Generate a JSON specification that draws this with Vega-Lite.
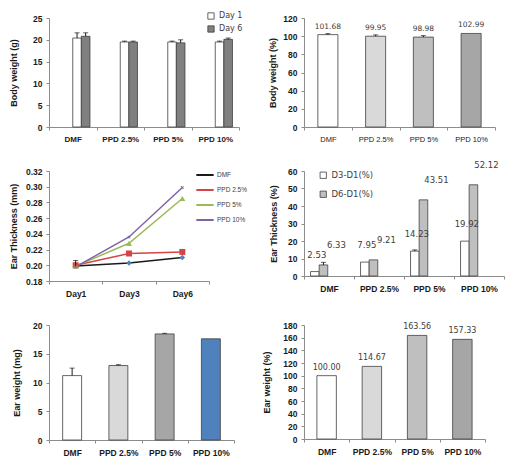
{
  "$schema": "https://vega.github.io/schema/vega-lite/v6.json",
  "padding": {"left": 9, "top": 12, "right": 0, "bottom": 0},
  "config": {
    "font": "Liberation Sans",
    "view": {"stroke": null},
    "axis": {"domainColor": "#8c8c8c", "tickColor": "#8c8c8c", "tickSize": 3, "grid": false, "labelFont": "Liberation Sans", "labelFontWeight": "bold", "labelColor": "#1a1a1a", "labelFontSize": 8.5, "titleFont": "Liberation Sans", "titleFontWeight": "bold", "titleFontSize": 9, "titleColor": "#1a1a1a"},
    "axisX": {"labelAngle": 0, "tickBand": "extent", "labelPadding": 5},
    "axisY": {"labelPadding": 4},
    "legend": {"labelFont": "DejaVu Sans", "labelFontSize": 8, "labelColor": "#404040"}
  },
  "resolve": {
    "scale": {"fill": "independent", "stroke": "independent", "shape": "independent"},
    "legend": {"fill": "independent", "stroke": "independent", "shape": "independent"}
  },
  "columns": 2,
  "align": "each",
  "bounds": "flush",
  "spacing": {"row": 44, "column": 65},
  "concat": [
    {
      "width": 190, "height": 109,
      "data": {"values": [
        {"group": "DMF", "day": "Day 1", "value": 20.4, "upper": 21.6},
        {"group": "DMF", "day": "Day 6", "value": 20.8, "upper": 21.6},
        {"group": "PPD 2.5%", "day": "Day 1", "value": 19.5, "upper": 19.7},
        {"group": "PPD 2.5%", "day": "Day 6", "value": 19.5, "upper": 19.7},
        {"group": "PPD 5%", "day": "Day 1", "value": 19.5, "upper": 19.7},
        {"group": "PPD 5%", "day": "Day 6", "value": 19.3, "upper": 20.0},
        {"group": "PPD 10%", "day": "Day 1", "value": 19.5, "upper": 19.7},
        {"group": "PPD 10%", "day": "Day 6", "value": 20.1, "upper": 20.4}
      ]},
      "encoding": {
        "x": {"field": "group", "type": "nominal", "sort": null, "scale": {"paddingInner": 0, "paddingOuter": 0}, "axis": {"title": null, "labelFontSize": 8}},
        "xOffset": {"field": "day", "type": "nominal", "scale": {"paddingInner": 0, "paddingOuter": 0.76}},
        "y": {"field": "value", "type": "quantitative", "scale": {"domain": [0, 25]}, "axis": {"values": [0, 5, 10, 15, 20, 25], "title": "Body weight (g)", "titleX": -30.5}}
      },
      "layer": [
        {
          "mark": {"type": "bar", "stroke": "#404040", "strokeWidth": 0.8},
          "encoding": {
            "fill": {"field": "day", "type": "nominal", "scale": {"domain": ["Day 1", "Day 6"], "range": ["#ffffff", "#808080"]}, "legend": {"title": null, "orient": "none", "legendX": 158, "legendY": -6, "symbolType": "square", "symbolSize": 40, "symbolStrokeColor": "#404040", "symbolStrokeWidth": 0.8, "rowPadding": 3}}
          }
        },
        {
          "transform": [{"filter": "datum.upper != null"}],
          "mark": {"type": "rule", "color": "#1a1a1a", "strokeWidth": 1},
          "encoding": {"y2": {"field": "upper"}}
        },
        {
          "transform": [{"filter": "datum.upper != null"}],
          "mark": {"type": "tick", "color": "#1a1a1a", "size": 5, "thickness": 1},
          "encoding": {"y": {"field": "upper", "type": "quantitative"}}
        }
      ]
    },
    {
      "width": 191, "height": 109,
      "data": {"values": [
        {"group": "DMF", "value": 101.68, "upper": 102.8},
        {"group": "PPD 2.5%", "value": 99.95, "upper": 101.4},
        {"group": "PPD 5%", "value": 98.98, "upper": 100.6},
        {"group": "PPD 10%", "value": 102.99}
      ]},
      "encoding": {
        "x": {"field": "group", "type": "nominal", "sort": null, "scale": {"paddingInner": 0, "paddingOuter": 0}, "axis": {"title": null, "labelFontSize": 7.5, "labelFontWeight": "normal"}},
        "y": {"field": "value", "type": "quantitative", "scale": {"domain": [0, 120]}, "axis": {"values": [0, 20, 40, 60, 80, 100, 120], "title": "Body weight (%)", "titleX": -26.5}}
      },
      "layer": [
        {
          "mark": {"type": "bar", "stroke": "#404040", "strokeWidth": 0.8, "width": {"band": 0.42}},
          "encoding": {"fill": {"field": "group", "type": "nominal", "sort": null, "scale": {"domain": ["DMF", "PPD 2.5%", "PPD 5%", "PPD 10%"], "range": ["#ffffff", "#d9d9d9", "#bfbfbf", "#a6a6a6"]}, "legend": null}}
        },
        {
          "transform": [{"filter": "datum.upper != null"}],
          "mark": {"type": "rule", "color": "#1a1a1a", "strokeWidth": 1},
          "encoding": {"y2": {"field": "upper"}}
        },
        {
          "transform": [{"filter": "datum.upper != null"}],
          "mark": {"type": "tick", "color": "#1a1a1a", "size": 5, "thickness": 1},
          "encoding": {"y": {"field": "upper", "type": "quantitative"}}
        },
        {
          "mark": {"type": "text", "baseline": "bottom", "dy": -4, "font": "DejaVu Sans", "fontSize": 7.5, "color": "#404040"},
          "encoding": {"text": {"field": "value", "type": "quantitative", "format": ".2f"}}
        }
      ]
    },
    {
      "width": 160, "height": 110,
      "data": {"values": [
        {"group": "DMF", "day": "Day1", "value": 0.199, "upper": 0.206},
        {"group": "DMF", "day": "Day3", "value": 0.203},
        {"group": "DMF", "day": "Day6", "value": 0.210},
        {"group": "PPD 2.5%", "day": "Day1", "value": 0.200},
        {"group": "PPD 2.5%", "day": "Day3", "value": 0.215},
        {"group": "PPD 2.5%", "day": "Day6", "value": 0.217},
        {"group": "PPD 5%", "day": "Day1", "value": 0.199},
        {"group": "PPD 5%", "day": "Day3", "value": 0.228},
        {"group": "PPD 5%", "day": "Day6", "value": 0.285},
        {"group": "PPD 10%", "day": "Day1", "value": 0.198},
        {"group": "PPD 10%", "day": "Day3", "value": 0.236},
        {"group": "PPD 10%", "day": "Day6", "value": 0.299}
      ]},
      "encoding": {
        "x": {"field": "day", "type": "nominal", "sort": null, "scale": {"type": "band", "paddingInner": 0, "paddingOuter": 0}, "axis": {"title": null}},
        "y": {"field": "value", "type": "quantitative", "scale": {"domain": [0.18, 0.32], "zero": false}, "axis": {"values": [0.18, 0.20, 0.22, 0.24, 0.26, 0.28, 0.30, 0.32], "format": ".2f", "title": "Ear Thickness (mm)", "titleX": -30.5}}
      },
      "layer": [
        {
          "mark": {"type": "line", "strokeWidth": 1.5},
          "encoding": {"stroke": {"field": "group", "type": "nominal", "sort": null, "scale": {"domain": ["DMF", "PPD 2.5%", "PPD 5%", "PPD 10%"], "range": ["#1a1a1a", "#d64545", "#9bbb59", "#8064a2"]}, "legend": {"title": null, "orient": "none", "legendX": 146, "legendY": -6, "symbolType": "stroke", "symbolStrokeWidth": 2, "symbolSize": 300, "labelFont": "Liberation Sans", "labelFontSize": 6.5, "rowPadding": 1, "labelOffset": 2}}}
        },
        {
          "transform": [{"filter": "datum.group == 'DMF'"}],
          "mark": {"type": "point", "filled": true, "size": 30, "opacity": 1, "shape": "diamond", "color": "#4f81bd"}
        },
        {
          "transform": [{"filter": "datum.group == 'PPD 2.5%'"}],
          "mark": {"type": "point", "filled": true, "size": 36, "opacity": 1, "shape": "square", "color": "#d64545"}
        },
        {
          "transform": [{"filter": "datum.group == 'PPD 5%'"}],
          "mark": {"type": "point", "filled": true, "size": 36, "opacity": 1, "shape": "triangle-up", "color": "#9bbb59"}
        },
        {
          "transform": [{"filter": "datum.group == 'PPD 10%'"}],
          "mark": {"type": "point", "filled": true, "size": 40, "opacity": 1, "shape": "M-0.3,-0.5L0,-0.2L0.3,-0.5L0.5,-0.3L0.2,0L0.5,0.3L0.3,0.5L0,0.2L-0.3,0.5L-0.5,0.3L-0.2,0L-0.5,-0.3Z", "color": "#8064a2"}
        },
        {
          "transform": [{"filter": "datum.upper != null"}],
          "mark": {"type": "rule", "color": "#1a1a1a", "strokeWidth": 1},
          "encoding": {"y2": {"field": "upper"}}
        },
        {
          "transform": [{"filter": "datum.upper != null"}],
          "mark": {"type": "tick", "color": "#1a1a1a", "size": 5, "thickness": 1},
          "encoding": {"y": {"field": "upper", "type": "quantitative"}}
        }
      ]
    },
    {
      "width": 200, "height": 105,
      "data": {"values": [
        {"group": "DMF", "period": "D3-D1(%)", "value": 2.53},
        {"group": "DMF", "period": "D6-D1(%)", "value": 6.33, "upper": 7.8},
        {"group": "PPD 2.5%", "period": "D3-D1(%)", "value": 7.95},
        {"group": "PPD 2.5%", "period": "D6-D1(%)", "value": 9.21},
        {"group": "PPD 5%", "period": "D3-D1(%)", "value": 14.23, "upper": 14.9},
        {"group": "PPD 5%", "period": "D6-D1(%)", "value": 43.51},
        {"group": "PPD 10%", "period": "D3-D1(%)", "value": 19.92},
        {"group": "PPD 10%", "period": "D6-D1(%)", "value": 52.12}
      ]},
      "encoding": {
        "x": {"field": "group", "type": "nominal", "sort": null, "scale": {"paddingInner": 0, "paddingOuter": 0}, "axis": {"title": null}},
        "xOffset": {"field": "period", "type": "nominal", "scale": {"paddingInner": 0, "paddingOuter": 0.92}},
        "y": {"field": "value", "type": "quantitative", "scale": {"domain": [0, 60]}, "axis": {"values": [0, 10, 20, 30, 40, 50, 60], "title": "Ear Thickness (%)", "titleX": -25.5}}
      },
      "layer": [
        {
          "mark": {"type": "bar", "stroke": "#404040", "strokeWidth": 0.8},
          "encoding": {"fill": {"field": "period", "type": "nominal", "scale": {"domain": ["D3-D1(%)", "D6-D1(%)"], "range": ["#ffffff", "#bfbfbf"]}, "legend": {"title": null, "orient": "none", "legendX": 15, "legendY": 0, "symbolType": "square", "symbolSize": 40, "symbolStrokeColor": "#404040", "symbolStrokeWidth": 0.8, "rowPadding": 8, "labelFontSize": 8.5}}}
        },
        {
          "transform": [{"filter": "datum.upper != null"}],
          "mark": {"type": "rule", "color": "#1a1a1a", "strokeWidth": 1},
          "encoding": {"y2": {"field": "upper"}}
        },
        {
          "transform": [{"filter": "datum.upper != null"}],
          "mark": {"type": "tick", "color": "#1a1a1a", "size": 5, "thickness": 1},
          "encoding": {"y": {"field": "upper", "type": "quantitative"}}
        },
        {
          "transform": [{"filter": "datum.period == 'D3-D1(%)'"}],
          "mark": {"type": "text", "baseline": "bottom", "dy": -12, "dx": 2, "font": "DejaVu Sans", "fontSize": 8.5, "color": "#404040"},
          "encoding": {"text": {"field": "value", "type": "quantitative", "format": ".2f"}}
        },
        {
          "transform": [{"filter": "datum.period == 'D6-D1(%)'"}],
          "mark": {"type": "text", "baseline": "bottom", "dy": -15, "dx": 13, "font": "DejaVu Sans", "fontSize": 8.5, "color": "#404040"},
          "encoding": {"text": {"field": "value", "type": "quantitative", "format": ".2f"}}
        }
      ]
    },
    {
      "width": 185, "height": 115,
      "data": {"values": [
        {"group": "DMF", "value": 11.2, "upper": 12.5},
        {"group": "PPD 2.5%", "value": 12.95, "upper": 13.1},
        {"group": "PPD 5%", "value": 18.45, "upper": 18.55},
        {"group": "PPD 10%", "value": 17.6}
      ]},
      "encoding": {
        "x": {"field": "group", "type": "nominal", "sort": null, "scale": {"paddingInner": 0, "paddingOuter": 0}, "axis": {"title": null}},
        "y": {"field": "value", "type": "quantitative", "scale": {"domain": [0, 20]}, "axis": {"values": [0, 5, 10, 15, 20], "title": "Ear weight (mg)", "titleX": -27.5}}
      },
      "layer": [
        {
          "mark": {"type": "bar", "stroke": "#404040", "strokeWidth": 0.8, "width": {"band": 0.41}},
          "encoding": {"fill": {"field": "group", "type": "nominal", "sort": null, "scale": {"domain": ["DMF", "PPD 2.5%", "PPD 5%", "PPD 10%"], "range": ["#ffffff", "#d9d9d9", "#a6a6a6", "#4f81bd"]}, "legend": null}}
        },
        {
          "transform": [{"filter": "datum.upper != null"}],
          "mark": {"type": "rule", "color": "#1a1a1a", "strokeWidth": 1},
          "encoding": {"y2": {"field": "upper"}}
        },
        {
          "transform": [{"filter": "datum.upper != null"}],
          "mark": {"type": "tick", "color": "#1a1a1a", "size": 5, "thickness": 1},
          "encoding": {"y": {"field": "upper", "type": "quantitative"}}
        }
      ]
    },
    {
      "width": 181, "height": 114,
      "data": {"values": [
        {"group": "DMF", "value": 100.00},
        {"group": "PPD 2.5%", "value": 114.67},
        {"group": "PPD 5%", "value": 163.56},
        {"group": "PPD 10%", "value": 157.33}
      ]},
      "encoding": {
        "x": {"field": "group", "type": "nominal", "sort": null, "scale": {"paddingInner": 0, "paddingOuter": 0}, "axis": {"title": null}},
        "y": {"field": "value", "type": "quantitative", "scale": {"domain": [0, 180]}, "axis": {"values": [0, 20, 40, 60, 80, 100, 120, 140, 160, 180], "title": "Ear weight (%)", "titleX": -32.5}}
      },
      "layer": [
        {
          "mark": {"type": "bar", "stroke": "#404040", "strokeWidth": 0.8, "width": {"band": 0.43}},
          "encoding": {"fill": {"field": "group", "type": "nominal", "sort": null, "scale": {"domain": ["DMF", "PPD 2.5%", "PPD 5%", "PPD 10%"], "range": ["#ffffff", "#d9d9d9", "#bfbfbf", "#a6a6a6"]}, "legend": null}}
        },
        {
          "mark": {"type": "text", "baseline": "bottom", "dy": -4, "font": "DejaVu Sans", "fontSize": 8, "color": "#404040"},
          "encoding": {"text": {"field": "value", "type": "quantitative", "format": ".2f"}}
        }
      ]
    }
  ]
}
